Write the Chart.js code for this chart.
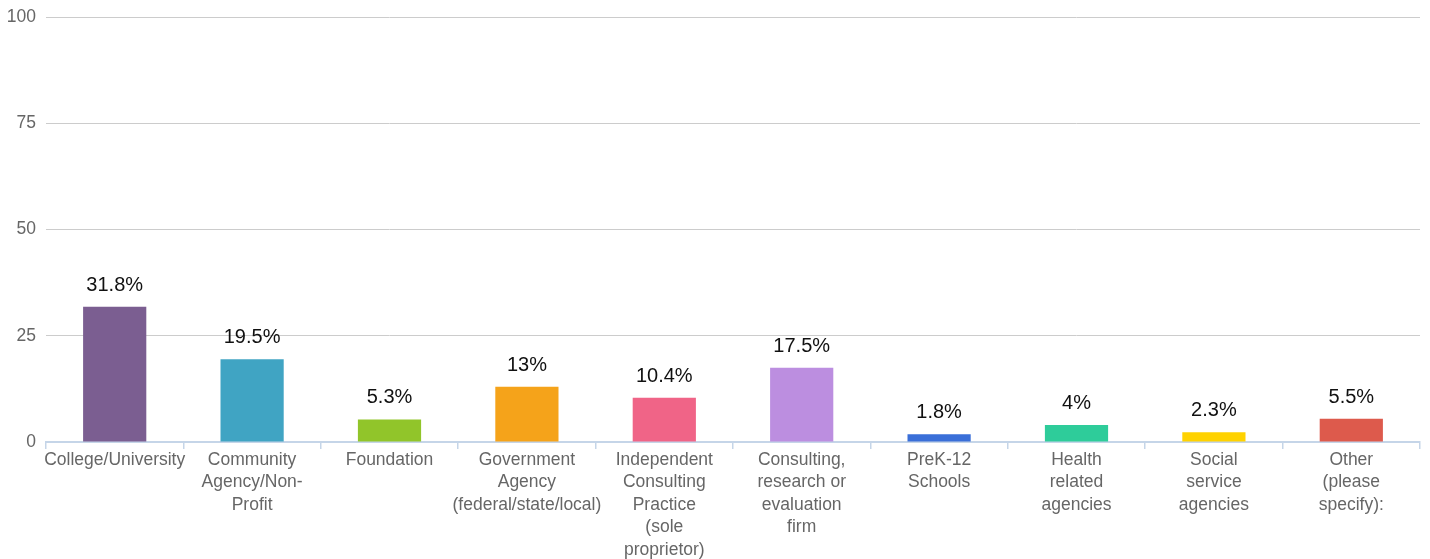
<!DOCTYPE html>
<html>
<head>
<meta charset="utf-8">
<script src="https://cdn.jsdelivr.net/npm/chart.js@4/dist/chart.umd.min.js"></script>
<style>
  html, body { margin: 0; padding: 0; background: #fff; }
  #wrap { width: 1430px; height: 559px; }
</style>
</head>
<body>
<div id="wrap"><canvas id="chart"></canvas></div>
<script>
var categories = [
    'College/University',
    ['Community', 'Agency/Non-', 'Profit'],
    'Foundation',
    ['Government', 'Agency', '(federal/state/local)'],
    ['Independent', 'Consulting', 'Practice', '(sole', 'proprietor)'],
    ['Consulting,', 'research or', 'evaluation', 'firm'],
    ['PreK-12', 'Schools'],
    ['Health', 'related', 'agencies'],
    ['Social', 'service', 'agencies'],
    ['Other', '(please', 'specify):']
];
var percents = [31.8, 19.5, 5.3, 13, 10.4, 17.5, 1.8, 4, 2.3, 5.5];
var barColors = ['#7b5e91', '#40a4c3', '#91c52a', '#f5a31a', '#f06487',
                 '#bc8ee0', '#3a6fd8', '#2ecc9a', '#ffd200', '#dd5a4c'];
var yTicks = [0, 25, 50, 75, 100];

// draws the "31.8%" labels over the bars
var valueLabels = {
    id: 'valueLabels',
    afterDatasetsDraw: function(chart) {
        var ctx = chart.ctx;
        var meta = chart.getDatasetMeta(0);
        ctx.save();
        ctx.font = '20px "Liberation Sans", Arial, sans-serif';
        ctx.fillStyle = '#111';
        ctx.textAlign = 'center';
        ctx.textBaseline = 'alphabetic';
        meta.data.forEach(function(bar, i) {
            ctx.fillText(percents[i] + '%', bar.x, bar.y - 16);
        });
        ctx.restore();
    }
};

var barChart = new Chart(document.getElementById('chart'), {
    type: 'bar',
    data: {
        labels: categories,
        datasets: [{
            data: percents,
            backgroundColor: barColors,
            borderWidth: 0,
            barPercentage: 0.92,
            categoryPercentage: 0.5
        }]
    },
    options: {
        responsive: true,
        maintainAspectRatio: false,
        animation: false,
        layout: { padding: { top: 17, right: 10, left: 0, bottom: 0 } },
        plugins: {
            legend: { display: false },
            tooltip: { enabled: false }
        },
        scales: {
            x: {
                offset: true,
                grid: {
                    offset: true,
                    drawOnChartArea: false,
                    drawTicks: true,
                    tickLength: 7,
                    color: '#c5d5e8',
                    lineWidth: 1.5
                },
                border: { color: '#c5d5e8', width: 2 },
                ticks: {
                    maxRotation: 0,
                    autoSkip: false,
                    padding: 0,
                    color: '#666',
                    font: { family: '"Liberation Sans", Arial, sans-serif', size: 17.5, lineHeight: 1.28 }
                },
                afterFit: function(scale) { scale.height = 117; }
            },
            y: {
                min: 0,
                max: 100,
                afterBuildTicks: function(scale) {
                    scale.ticks = yTicks.map(function(v) { return { value: v }; });
                },
                grid: { color: '#cccccc', drawTicks: false, lineWidth: 1 },
                border: { display: false },
                ticks: {
                    padding: 10,
                    color: '#666',
                    font: { family: '"Liberation Sans", Arial, sans-serif', size: 17.5 }
                },
                afterFit: function(scale) {
                    scale.width = 46;
                    scale.paddingTop = 0;
                    scale.paddingBottom = 0;
                }
            }
        }
    },
    plugins: [valueLabels]
});
</script>
</body>
</html>
